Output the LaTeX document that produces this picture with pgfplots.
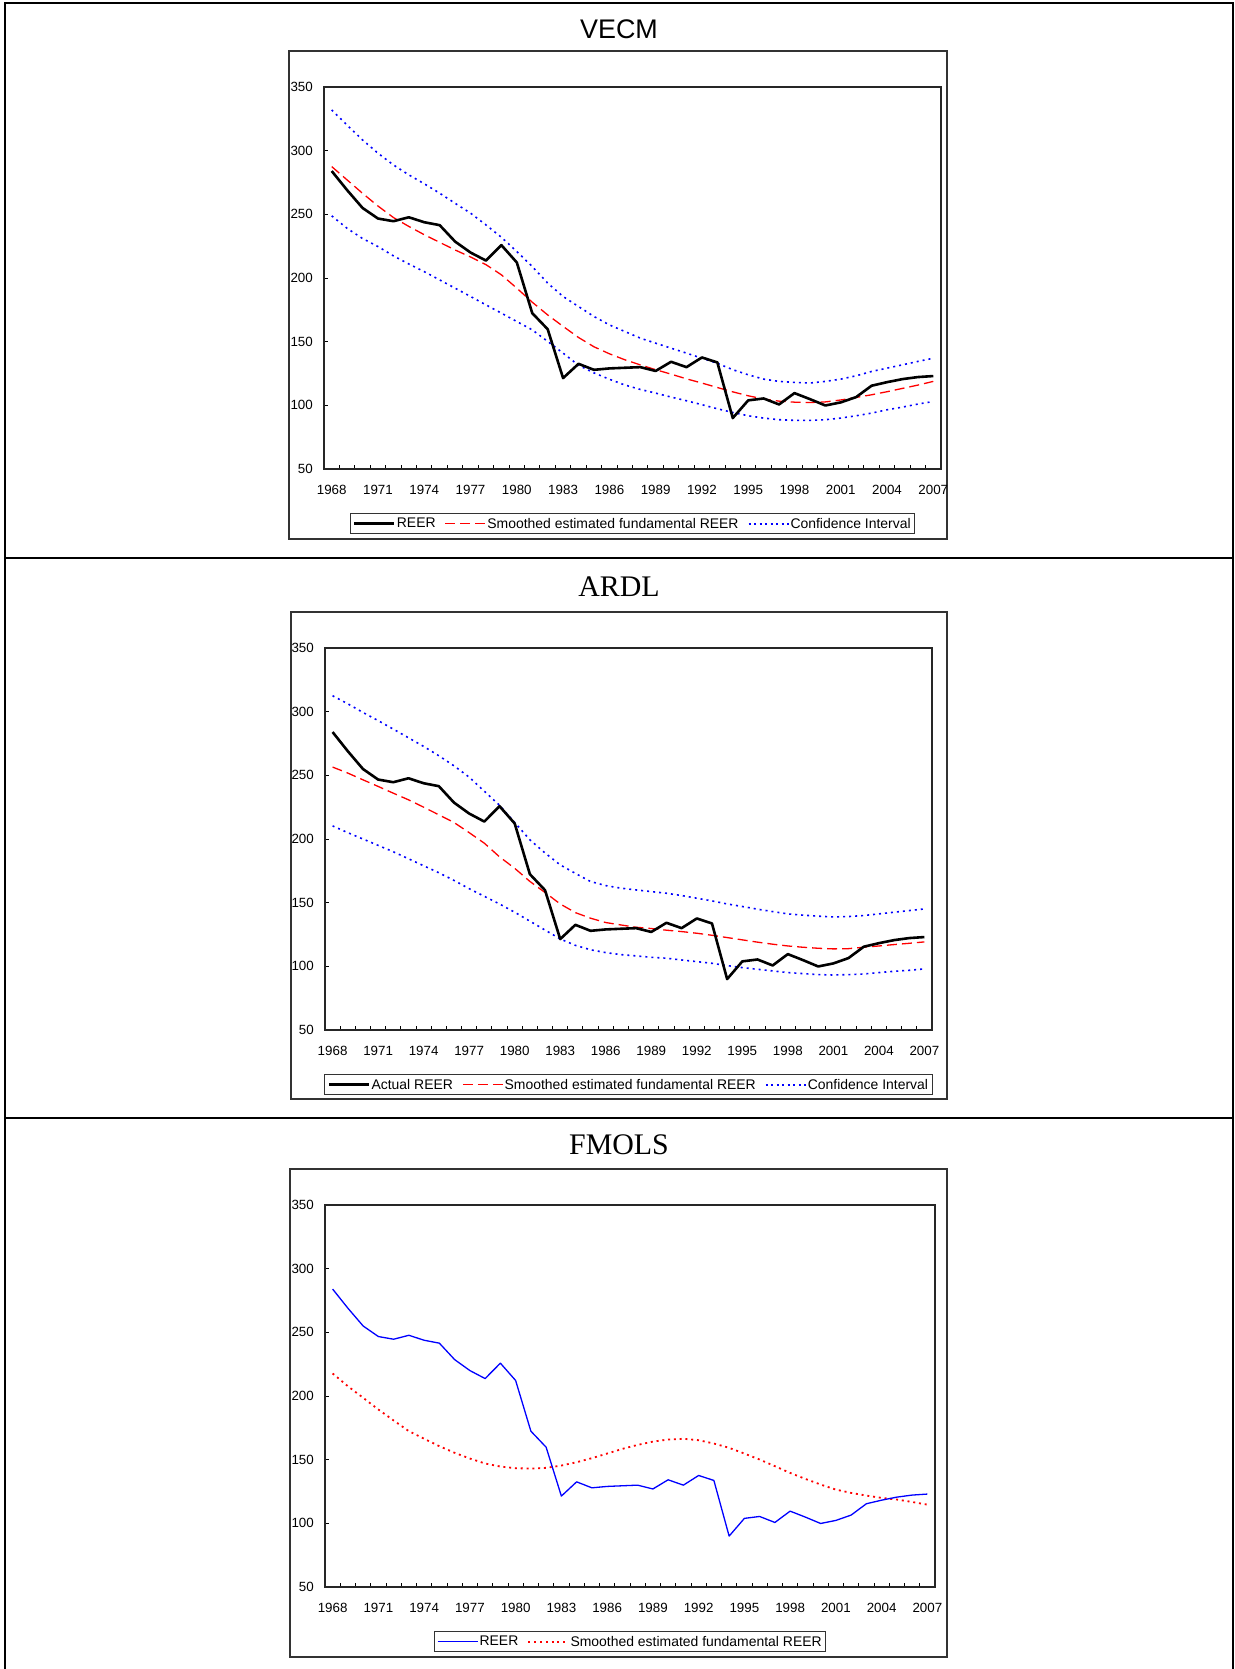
\documentclass[border=0pt]{standalone}
\usepackage{fontspec}
\setmainfont{Liberation Sans}
\newfontfamily\seriffont{Liberation Serif}
\usepackage{pgfplots}
\usepackage{pgfplotstable}
\pgfplotsset{compat=1.18}

\definecolor{xlred}{RGB}{255,0,0}
\definecolor{xlblue}{RGB}{0,0,255}

\pgfplotstableread{
i reer fund up lo
0 284 287.5 332 248.8
1 269 277 320 239
2 255 266.5 308.4 231
3 246.7 256.5 298 224.7
4 244.6 247.5 288.8 217.4
5 247.7 240.5 281 211
6 243.8 234 274 205
7 241.5 228 266.6 198.5
8 228.6 222 258.7 192
9 220 216.5 250.9 185.5
10 213.7 210.5 241.7 178.9
11 225.8 202.5 232 172.4
12 212.2 192 220.8 165.8
13 172.4 181 209 159.3
14 159.8 171 196 150.2
15 121.4 162 185.5 141
16 132.6 153.3 177.6 131.5
17 127.9 146 169.8 125.5
18 129 140.5 163.2 120.5
19 129.5 135.8 158 116
20 130 131.8 152.8 112.5
21 127 128 148.8 109.6
22 134.2 124.5 144.9 106.5
23 130 120.8 141 103.6
24 137.6 117.5 137 100.5
25 133.7 114 133 97.3
26 90 110.6 128 94.4
27 103.9 107.5 124 91.8
28 105.4 105 120.6 90
29 100.7 103.3 118.8 88.7
30 109.6 102.5 118 88.2
31 104.9 102.2 117.5 88.2
32 99.9 102.7 118.8 88.7
33 102.3 104.2 120.6 90
34 106.5 106.2 123.2 91.8
35 115.4 108.3 126.6 93.9
36 118.2 110.7 129.2 96.5
37 120.6 113.3 131.8 98.6
38 122.2 115.9 134.5 101
39 123 118.8 137 103
}\vecmtable

\pgfplotstableread{
i reer fund up lo
0 284 256.5 312.5 210.3
1 269 251.8 306.2 205
2 255 246.5 299.4 200
3 246.7 241.3 293 195
4 244.6 236 286.3 190
5 247.7 230.8 279.5 184.5
6 243.8 225 272.7 179
7 241.5 219 265.4 173.5
8 228.6 213 257.5 167.5
9 220 205 248.6 161
10 213.7 196.7 237.5 155
11 225.8 186 226.5 149
12 212.2 177 213 142.5
13 172.4 166.7 199.4 135.5
14 159.8 158 189 128.5
15 121.4 149 179.7 121.5
16 132.6 142.2 173 116.5
17 127.9 137.8 166.6 113
18 129 134.4 163.4 110.8
19 129.5 132.5 161.4 109.2
20 130 130.7 160 108.2
21 127 129.7 158.7 107.1
22 134.2 128.4 157.4 106.4
23 130 127.3 155.6 105
24 137.6 126 153.5 103.7
25 133.7 124.4 151.4 102.4
26 90 122.6 149 100.6
27 103.9 120.8 147 99
28 105.4 119 144.9 97.7
29 100.7 117.4 143 96.4
30 109.6 116 141.2 95.1
31 104.9 115 140.2 94.3
32 99.9 114.2 139.4 93.5
33 102.3 113.7 138.8 93.2
34 106.5 113.9 139.1 93.5
35 115.4 115 139.9 94
36 118.2 116 141.2 95.1
37 120.6 117.1 142.5 96.1
38 122.2 118.1 143.8 96.9
39 123 119.2 145.1 98
}\ardltable

\pgfplotstableread{
i reer fund
0 284 217.7
1 269 207.7
2 255 198.6
3 246.7 189.4
4 244.6 180.8
5 247.7 172.4
6 243.8 166.4
7 241.5 160.6
8 228.6 155.4
9 220 150.9
10 213.7 147
11 225.8 144.6
12 212.2 143.3
13 172.4 143
14 159.8 143.6
15 121.4 145.4
16 132.6 148
17 127.9 151.2
18 129 154.8
19 129.5 158.5
20 130 161.6
21 127 164.2
22 134.2 165.8
23 130 166.4
24 137.6 165.3
25 133.7 162.7
26 90 159.3
27 103.9 154.8
28 105.4 150.1
29 100.7 144.9
30 109.6 139.6
31 104.9 134.9
32 99.9 130.5
33 102.3 126.5
34 106.5 123.9
35 115.4 121.8
36 118.2 120
37 120.6 118.7
38 122.2 116.8
39 123 114.7
}\fmolstable

\pgfplotsset{
  reerchart/.style={
    scale only axis,
    height=382bp,
    xmin=-0.5, xmax=39.5, ymin=50, ymax=350,
    xtick={0,3,...,39},
    xticklabels={1968,1971,1974,1977,1980,1983,1986,1989,1992,1995,1998,2001,2004,2007},
    minor xtick={0.5,1.5,...,38.5},
    ytick={50,100,...,350},
    tick align=inside, tick pos=left,
    major tick length=4bp, minor tick length=4bp,
    major x tick style={draw=none},
    tick style={black, line width=1bp},
    minor tick style={black, line width=1bp},
    axis line style={black!85, line width=1.3bp},
    ticklabel style={font=\fontsize{13.4}{15}\selectfont},
    xticklabel style={inner sep=0pt, anchor=north, yshift=-16bp},
    yticklabel style={inner sep=0pt, anchor=east, xshift=-11bp},
    /pgf/number format/assume math mode=true,
    legend image code/.code={\draw[##1] (0bp,0bp) -- (40bp,0bp);},
    legend style={at={(0.5,-0.116)}, anchor=north, legend columns=-1,
      draw=black!80, line width=0.9bp, inner xsep=3bp, inner ysep=3bp,
      font=\fontsize{14}{16}\selectfont,
      nodes={inner sep=1.2bp},
      /tikz/every even column/.append style={column sep=8bp}},
  }
}

\begin{document}
\begin{tikzpicture}
\useasboundingbox (0bp,0bp) rectangle (1235bp,-1669bp);
% table borders
\draw[line width=2.2bp] (5bp,-1675bp) -- (5bp,-3bp) -- (1233bp,-3bp) -- (1233bp,-1675bp);
\draw[line width=2.2bp] (5bp,-558bp) -- (1233bp,-558bp);
\draw[line width=2.2bp] (5bp,-1118bp) -- (1233bp,-1118bp);
% chart boxes
\draw[black!80, line width=1.3bp] (289bp,-51bp) rectangle (947bp,-539bp);
\draw[black!80, line width=1.3bp] (291bp,-612bp) rectangle (947bp,-1099bp);
\draw[black!80, line width=1.3bp] (290bp,-1169bp) rectangle (947bp,-1657bp);
% titles
\node[anchor=base, inner sep=0pt, font=\fontsize{27}{30}\selectfont] at (619bp,-38bp) {VECM};
\node[anchor=base, inner sep=0pt, font=\seriffont\fontsize{30}{34}\selectfont] at (619bp,-596bp) {ARDL};
\node[anchor=base, inner sep=0pt, font=\seriffont\fontsize{30}{34}\selectfont] at (619bp,-1154bp) {FMOLS};

% VECM
\begin{axis}[reerchart, width=617bp, at={(324bp,-469bp)}, anchor=south west]
\addlegendimage{black, line width=2.6bp}
\addlegendentry{REER}
\addlegendimage{xlred, line width=1.3bp, dash pattern=on 10bp off 5bp}
\addlegendentry{Smoothed estimated fundamental REER}
\addlegendimage{xlblue, line width=1.6bp, dash pattern=on 2bp off 3.5bp}
\addlegendentry{Confidence Interval}
\addplot[forget plot, xlblue, line width=1.6bp, dash pattern=on 2bp off 4bp] table[x=i, y=up] {\vecmtable};
\addplot[forget plot, xlblue, line width=1.6bp, dash pattern=on 2bp off 4bp] table[x=i, y=lo] {\vecmtable};
\addplot[forget plot, xlred, line width=1.3bp, dash pattern=on 10bp off 5bp] table[x=i, y=fund] {\vecmtable};
\addplot[forget plot, black, line width=2.6bp, line join=round] table[x=i, y=reer] {\vecmtable};
\end{axis}

% ARDL
\begin{axis}[reerchart, width=607bp, at={(325bp,-1030bp)}, anchor=south west]
\addlegendimage{black, line width=2.6bp}
\addlegendentry{Actual REER}
\addlegendimage{xlred, line width=1.3bp, dash pattern=on 10bp off 5bp}
\addlegendentry{Smoothed estimated fundamental REER}
\addlegendimage{xlblue, line width=1.6bp, dash pattern=on 2bp off 3.5bp}
\addlegendentry{Confidence Interval}
\addplot[forget plot, xlblue, line width=1.6bp, dash pattern=on 2bp off 4bp] table[x=i, y=up] {\ardltable};
\addplot[forget plot, xlblue, line width=1.6bp, dash pattern=on 2bp off 4bp] table[x=i, y=lo] {\ardltable};
\addplot[forget plot, xlred, line width=1.3bp, dash pattern=on 10bp off 5bp] table[x=i, y=fund] {\ardltable};
\addplot[forget plot, black, line width=2.6bp, line join=round] table[x=i, y=reer] {\ardltable};
\end{axis}

% FMOLS
\begin{axis}[reerchart, width=610bp, at={(325bp,-1587bp)}, anchor=south west]
\addlegendimage{xlblue, line width=1.3bp}
\addlegendentry{REER}
\addlegendimage{xlred, line width=1.8bp, dash pattern=on 2bp off 3.8bp}
\addlegendentry{Smoothed estimated fundamental REER}
\addplot[forget plot, xlred, line width=1.8bp, dash pattern=on 2bp off 3.8bp] table[x=i, y=fund] {\fmolstable};
\addplot[forget plot, xlblue, line width=1.3bp, line join=round] table[x=i, y=reer] {\fmolstable};
\end{axis}
\end{tikzpicture}
\end{document}
